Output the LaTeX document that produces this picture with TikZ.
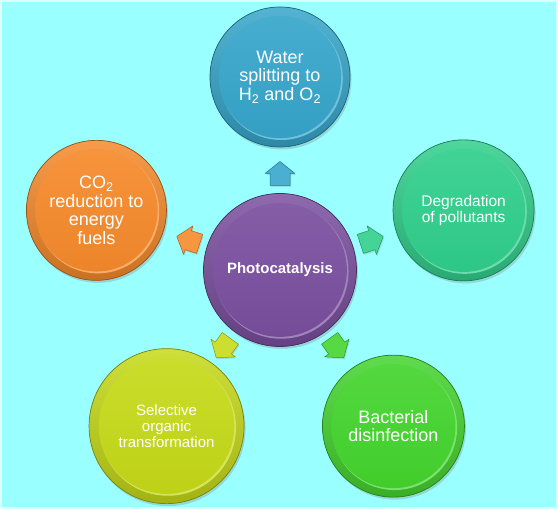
\documentclass[tikz,border=0pt]{standalone}
\usepackage{fontspec}
\setmainfont{Liberation Sans}
\usetikzlibrary{calc,shadows}
\definecolor{bgc}{HTML}{99FFFF}
\definecolor{cBlue}{HTML}{36A6CB}
\definecolor{cTeal}{HTML}{30CF8C}
\definecolor{cOrange}{HTML}{F68A2B}
\definecolor{cYellow}{HTML}{C6DA18}
\definecolor{cGreen}{HTML}{44D52E}
\definecolor{cPurple}{HTML}{7A4F9F}
\tikzset{
  ball/.style 2 args={circle, minimum size=#1, inner sep=0pt, text=white, align=center,
    draw=#2!60!black, line width=0.7pt, fill=#2,
    drop shadow={shadow xshift=1.5pt, shadow yshift=-2.5pt, opacity=0.3},
    path picture={
      \shade[top color=#2!85!white, bottom color=#2!82!black]
        (path picture bounding box.center) circle (#1/2);
      \fill[#2!70!white] ($(path picture bounding box.center)+(1.2pt,-1.4pt)$) circle (0.440*#1);
      \shade[top color=#2!92!white, bottom color=#2!96!black]
        (path picture bounding box.center) circle (0.437*#1);
    }},
  arrowshape/.style={fill=#1!90!white, draw=#1!70!black, line width=0.5pt, line join=round,
    drop shadow={shadow xshift=1pt, shadow yshift=-1.5pt, opacity=0.25}},
  bigtext/.style={font=\fontsize{18}{18.6}\selectfont},
  smalltext/.style={font=\fontsize{15}{16.3}\selectfont}
}
\begin{document}
\begin{tikzpicture}[x=1pt,y=1pt]
\fill[bgc] (0,0) rectangle (558,509);
\useasboundingbox (0,0) rectangle (558,509);
\draw[white!65!bgc, line width=1.5pt] (1,1) rectangle (557,508);

\node[ball={153pt}{cPurple}, font=\bfseries\fontsize{15}{16}\selectfont] (c) at (280,239) {Photocatalysis};
\node[ball={140pt}{cBlue}, bigtext] (t) at ($(c)+(90:193)$)
  {Water\\splitting to\\H\textsubscript{2} and O\textsubscript{2}};
\node[ball={140pt}{cOrange}, bigtext] (l) at ($(c)+(162:193)$)
  {CO\textsubscript{2}\\reduction to\\energy\\fuels};
\node[ball={141pt}{cTeal}, font=\fontsize{15.5}{16.2}\selectfont] (r) at ($(c)+(18:193)$)
  {Degradation\\of pollutants};
\node[ball={155pt}{cYellow}, smalltext] (bl) at ($(c)+(234:193)$)
  {Selective\\organic\\transformation};
\node[ball={142pt}{cGreen}, bigtext] (br) at ($(c)+(306:193)$)
  {Bacterial\\disinfection};

\coordinate (m1) at ($(c)!0.5!(t)$);
\coordinate (m2) at ($(c)!0.5!(l)$);
\coordinate (m3) at ($(c)!0.5!(r)$);
\coordinate (m4) at ($(c)!0.5!(bl)$);
\coordinate (m5) at ($(c)!0.5!(br)$);
\draw[arrowshape=cBlue, shift={(m1)}, rotate=90]
  (-12,-10) -- (0,-10) -- (0,-15) -- (12,0) -- (0,15) -- (0,10) -- (-12,10) -- cycle;
\draw[arrowshape=cOrange, shift={(m2)}, rotate=162]
  (-12,-10) -- (0,-10) -- (0,-15) -- (12,0) -- (0,15) -- (0,10) -- (-12,10) -- cycle;
\draw[arrowshape=cTeal, shift={(m3)}, rotate=18]
  (-12,-10) -- (0,-10) -- (0,-15) -- (12,0) -- (0,15) -- (0,10) -- (-12,10) -- cycle;
\draw[arrowshape=cYellow, shift={(m4)}, rotate=234]
  (-12,-10) -- (0,-10) -- (0,-15) -- (12,0) -- (0,15) -- (0,10) -- (-12,10) -- cycle;
\draw[arrowshape=cGreen, shift={(m5)}, rotate=306]
  (-12,-10) -- (0,-10) -- (0,-15) -- (12,0) -- (0,15) -- (0,10) -- (-12,10) -- cycle;
\end{tikzpicture}
\end{document}
